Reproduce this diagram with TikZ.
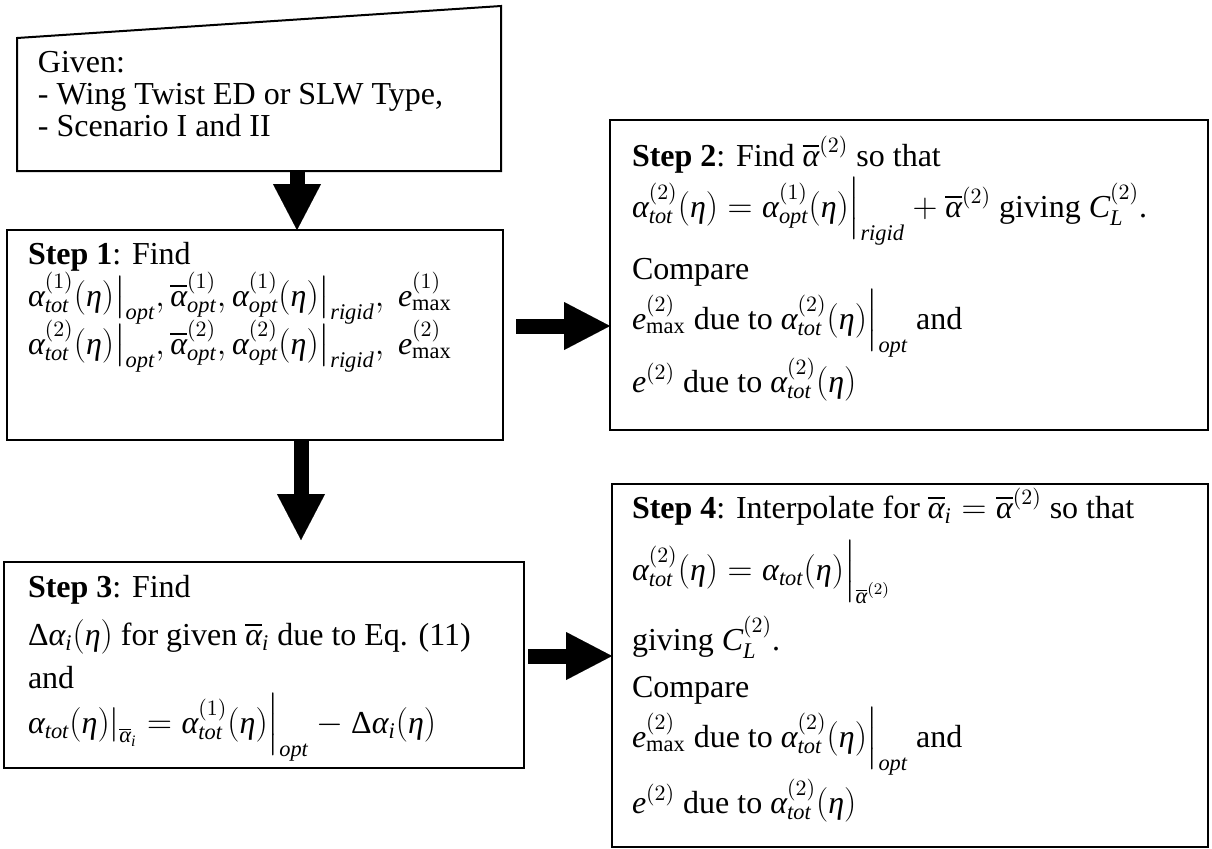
\documentclass[tikz,border=0pt]{standalone}
\usepackage{amsmath}
\usepackage{fontspec}
\setmainfont{Liberation Serif}
\usetikzlibrary{arrows.meta,calc}
\newcommand{\mv}[1]{\text{\normalfont\itshape #1}}
\newcommand{\mr}[1]{\text{\normalfont #1}}
\newcommand{\xal}{\mv{α}}
\newcommand{\xet}{\mv{η}}
\newcommand{\xDe}{\mr{Δ}}
\newcommand{\xab}{\overline{\xal}}
\newcommand{\eb}[1]{\mathclose{\hbox{$\delimitershortfall=0pt\delimiterfactor=1000\left|\vcenter to #1{}\right.\nulldelimiterspace=0pt$}}}
\tikzset{
  box/.style={draw=black,line width=1pt,inner sep=0pt,outer sep=0pt,anchor=north west},
  txt/.style={anchor=base west,inner sep=0pt,outer sep=0pt,font=\fontsize{16}{19}\selectfont},
  blockarrow/.style={line width=7.5pt,-{Triangle[width=24pt,length=23pt,line width=0.01pt]}},
}
\begin{document}
\begin{tikzpicture}[x=0.5pt,y=-0.5pt]
\useasboundingbox (0,0) rectangle (1212,848);
% input shape
\node[anchor=north west,inner sep=0pt,outer sep=0pt,minimum width=242pt,minimum height=82.5pt] (given) at (17,6) {};
\draw[line width=1pt] (given.south west) -- (given.south east) -- (given.north east) -- ($(given.north west)+(0,32)$) -- cycle;
\node[txt] (g1) at (38,72) {Given:};
\node[txt] (g2) at (38,104) {- Wing Twist ED or SLW Type,};
\node[txt] (g3) at (38,136) {- Scenario I and II};
% boxes
\node[box,minimum width=248pt,minimum height=105pt] (step1) at (7,230) {};
\node[box,minimum width=299pt,minimum height=155pt] (step2) at (610,120) {};
\node[box,minimum width=260pt,minimum height=103pt] (step3) at (4,562) {};
\node[box,minimum width=298pt,minimum height=181.5pt] (step4) at (612,484) {};
% step 1 text
\node[txt] (s1a) at (28,264) {\textbf{Step 1}: Find};
\node[txt] (s1b) at (28,306) {$\xal^{(1)}_{\mv{tot}}(\xet)\eb{20pt}_{\mv{opt}},\xab^{(1)}_{\mv{opt}},\xal^{(1)}_{\mv{opt}}(\xet)\eb{20pt}_{\mv{rigid}},\ \mv{e}^{(1)}_{\mr{max}}$};
\node[txt] (s1c) at (28,354) {$\xal^{(2)}_{\mv{tot}}(\xet)\eb{20pt}_{\mv{opt}},\xab^{(2)}_{\mv{opt}},\xal^{(2)}_{\mv{opt}}(\xet)\eb{20pt}_{\mv{rigid}},\ \mv{e}^{(2)}_{\mr{max}}$};
% step 2 text
\node[txt] (s2a) at (632,166) {\textbf{Step 2}: Find $\xab^{(2)}$ so that};
\node[txt] (s2b) at (632,217) {$\xal^{(2)}_{\mv{tot}}(\xet)=\xal^{(1)}_{\mv{opt}}(\xet)\eb{23pt}_{\mv{rigid}}+\xab^{(2)}$ giving $\mv{C}_{\mv{L}}^{(2)}$.};
\node[txt] (s2c) at (632,279) {Compare};
\node[txt] (s2d) at (632,329) {$\mv{e}^{(2)}_{\mr{max}}$ due to $\xal^{(2)}_{\mv{tot}}(\xet)\eb{23pt}_{\mv{opt}}$ and};
\node[txt] (s2e) at (632,392) {$\mv{e}^{(2)}$ due to $\xal^{(2)}_{\mv{tot}}(\xet)$};
% step 3 text
\node[txt] (s3a) at (28,597) {\textbf{Step 3}: Find};
\node[txt] (s3b) at (28,645) {$\xDe\xal_{\mv{i}}(\xet)$ for given $\xab_{\mv{i}}$ due to Eq. (11)};
\node[txt] (s3c) at (28,688) {and};
\node[txt] (s3d) at (28,733) {$\xal_{\mv{tot}}(\xet)\eb{16pt}_{\xab_{\mv{i}}}=\xal^{(1)}_{\mv{tot}}(\xet)\eb{22pt}_{\mv{opt}}-\xDe\xal_{\mv{i}}(\xet)$};
% step 4 text
\node[txt] (s4a) at (632,518) {\textbf{Step 4}: Interpolate for $\xab_{\mv{i}}=\xab^{(2)}$ so that};
\node[txt] (s4b) at (632,580) {$\xal^{(2)}_{\mv{tot}}(\xet)=\xal_{\mv{tot}}(\xet)\eb{23pt}_{\xab^{(2)}}$};
\node[txt] (s4c) at (632,650) {giving $\mv{C}_{\mv{L}}^{(2)}$.};
\node[txt] (s4d) at (632,697) {Compare};
\node[txt] (s4e) at (632,747) {$\mv{e}^{(2)}_{\mr{max}}$ due to $\xal^{(2)}_{\mv{tot}}(\xet)\eb{23pt}_{\mv{opt}}$ and};
\node[txt] (s4f) at (632,813) {$\mv{e}^{(2)}$ due to $\xal^{(2)}_{\mv{tot}}(\xet)$};
% arrows
\coordinate (ax) at (297,0);
\draw[blockarrow] (given.south -| ax) -- (step1.north -| ax);
\coordinate (bx) at (301,0);
\draw[blockarrow] (step1.south -| bx) -- ($(step3.north -| bx)+(0,-22)$);
\coordinate (cy) at (0,326);
\draw[blockarrow] ($(step1.east |- cy)+(13,0)$) -- (step2.west |- cy);
\coordinate (dy) at (0,656);
\draw[blockarrow] ($(step3.east |- dy)+(4,0)$) -- (step4.west |- dy);
\end{tikzpicture}
\end{document}
